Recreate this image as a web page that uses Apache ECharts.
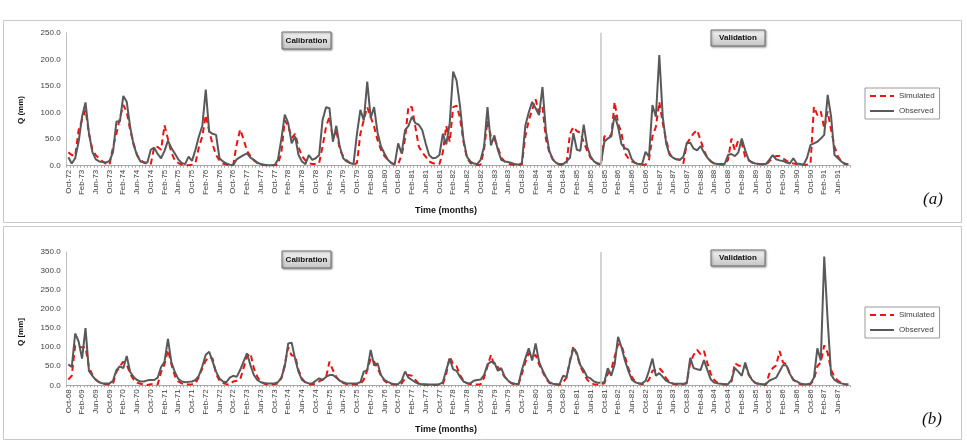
<!DOCTYPE html>
<html>
<head>
<meta charset="utf-8">
<script src="https://cdn.jsdelivr.net/npm/echarts@6/dist/echarts.min.js"></script>
<style>
  html, body { margin: 0; padding: 0; background: #fff; }
  #chart { width: 967px; height: 446px; }
</style>
</head>
<body>
<div id="chart"></div>
<script>
// month labels, water years Oct..Sep
const MONTHS = ['Oct', 'Nov', 'Dec', 'Jan', 'Feb', 'Mar', 'Apr', 'May', 'Jun', 'Jul', 'Aug', 'Sep']
function monthLabels(startYear, nYears) {
  const out = []
  for (let y = 0; y < nYears; y++) {
    MONTHS.forEach((m, k) => {
      const yr = (startYear + y + (k < 3 ? 0 : 1)) % 100
      out.push(m + '-' + String(yr).padStart(2, '0'))
    })
  }
  return out
}

const categoriesA = monthLabels(72, 19)   // Oct-72 .. Sep-91
const categoriesB = monthLabels(68, 19)   // Oct-68 .. Sep-87
const calibEndA = 'Sep-85'
const calibEndB = 'Sep-81'

// (a) monthly flow, mm
const observedA = [
  16, 4, 14, 45, 92, 119, 61, 26, 12, 8, 7, 6,
  9, 25, 83, 83, 131, 120, 73, 39, 20, 8, 6, 6,
  30, 34, 22, 14, 28, 47, 33, 23, 12, 5, 3, 17,
  9, 30, 55, 75, 143, 64, 60, 58, 14, 8, 4, 2,
  1, 12, 16, 20, 23, 15, 11, 6, 3, 2, 1, 1,
  1, 11, 50, 96, 80, 42, 55, 20, 8, 3, 20, 11,
  14, 20, 86, 110, 108, 45, 75, 36, 14, 8, 5, 3,
  60, 105, 85, 158, 90, 110, 62, 36, 23, 11, 5, 3,
  42, 23, 67, 75, 92, 80, 77, 67, 42, 20, 14, 15,
  20, 60, 40, 80, 177, 160, 112, 50, 17, 8, 4, 3,
  11, 36, 110, 38, 57, 30, 11, 8, 7, 5, 3, 2,
  5, 75, 100, 120, 108, 95, 148, 65, 28, 12, 5, 3,
  3, 8, 15, 61, 30, 28, 77, 36, 17, 8, 4, 3,
  45, 51, 55, 95, 73, 40, 33, 30, 12, 5, 3, 3,
  26, 17, 114, 92, 208, 92, 42, 20, 15, 12, 11, 17,
  42, 43, 32, 29, 37, 25, 15, 8, 4, 3, 3, 3,
  20, 22, 18, 25, 51, 29, 11, 6, 4, 3, 3, 3,
  11, 20, 12, 10, 9, 6, 4, 14, 4, 3, 2, 15,
  39, 42, 45, 51, 58, 133, 92, 20, 14, 8, 3, 3
]
const simulatedA = [
  25, 20, 18, 67, 86, 105, 61, 30, 20, 13, 8, 3,
  2, 35, 60, 90, 114, 101, 67, 42, 20, 11, 6, 3,
  3, 35, 35, 30, 76, 50, 25, 10, 5, 2, 1, 1,
  2, 5, 35, 55, 95, 65, 40, 20, 10, 4, 2, 1,
  2, 40, 68, 50, 28, 18, 10, 5, 2, 1, 1, 1,
  1, 2, 25, 85, 75, 52, 60, 35, 18, 10, 5, 3,
  3, 5, 36, 73, 92, 51, 67, 30, 18, 10, 5, 2,
  5, 60, 86, 110, 92, 73, 48, 30, 18, 11, 5, 2,
  3, 20, 50, 112, 110, 73, 36, 25, 17, 8, 5, 3,
  3, 25, 75, 45, 110, 113, 90, 45, 15, 5, 2, 1,
  2, 30, 85, 55, 50, 35, 15, 8, 4, 2, 1, 1,
  2, 55, 85, 105, 125, 100, 110, 50, 25, 12, 5, 2,
  2, 5, 60, 73, 65, 62, 45, 28, 15, 8, 4, 2,
  55, 58, 55, 120, 80, 61, 23, 14, 8, 5, 3, 2,
  2, 11, 55, 73, 120, 80, 48, 23, 14, 12, 11, 4,
  42, 51, 61, 67, 48, 29, 15, 8, 4, 3, 2, 2,
  11, 51, 29, 48, 42, 17, 10, 6, 4, 3, 2, 2,
  8, 15, 18, 18, 14, 9, 6, 4, 3, 2, 2, 2,
  3, 111, 95, 102, 70, 102, 67, 36, 17, 8, 4, 2
]

// (b) monthly flow, mm
const observedB = [
  55, 48, 136, 115, 70, 150, 38, 25, 14, 8, 5, 5,
  5, 12, 40, 50, 45, 77, 35, 22, 14, 10, 10, 13,
  14, 14, 20, 48, 62, 122, 60, 35, 17, 10, 8, 9,
  10, 14, 25, 50, 80, 88, 62, 36, 18, 10, 8, 20,
  25, 22, 40, 62, 84, 53, 27, 14, 8, 6, 5, 5,
  5, 8, 20, 49, 110, 112, 70, 35, 14, 8, 5, 5,
  12, 18, 14, 22, 27, 27, 20, 12, 8, 5, 5, 5,
  5, 8, 36, 40, 93, 52, 58, 27, 14, 9, 5, 3,
  3, 12, 36, 20, 14, 8, 4, 3, 3, 2, 2, 2,
  3, 8, 40, 70, 42, 38, 22, 10, 6, 5, 12, 14,
  15, 27, 55, 62, 60, 38, 45, 23, 12, 6, 4, 3,
  40, 70, 97, 65, 110, 62, 40, 22, 8, 4, 3, 3,
  25, 22, 62, 97, 85, 53, 40, 22, 18, 10, 7, 7,
  8, 45, 25, 55, 127, 100, 65, 38, 15, 8, 5, 5,
  12, 38, 70, 25, 32, 22, 12, 7, 5, 4, 4, 4,
  5, 72, 45, 42, 40, 66, 40, 15, 7, 5, 4, 3,
  3, 14, 45, 36, 25, 60, 30, 14, 6, 4, 3, 3,
  12, 16, 20, 36, 53, 52, 30, 14, 10, 5, 3, 3,
  5, 20, 97, 65, 338, 170, 28, 14, 8, 5, 3, 2
]
const simulatedB = [
  15, 25, 105, 100, 100, 100, 48, 27, 15, 8, 4, 3,
  2, 4, 35, 50, 62, 55, 30, 15, 7, 4, 2, 1,
  3, 2, 2, 35, 55, 93, 55, 25, 10, 5, 3, 2,
  3, 5, 22, 45, 65, 75, 70, 30, 12, 6, 3, 2,
  10, 12, 15, 45, 75, 84, 45, 22, 10, 4, 2, 2,
  3, 5, 18, 55, 100, 78, 78, 40, 18, 7, 3, 2,
  5, 10, 15, 20, 62, 40, 22, 12, 6, 3, 2, 2,
  2, 3, 15, 40, 70, 62, 45, 25, 12, 5, 3, 2,
  1, 5, 18, 27, 25, 14, 5, 2, 1, 1, 1, 1,
  2, 3, 30, 75, 55, 50, 27, 12, 5, 3, 2, 2,
  3, 20, 50, 80, 50, 48, 35, 22, 12, 5, 2, 2,
  30, 60, 85, 75, 80, 55, 36, 18, 6, 3, 2, 1,
  8, 20, 65, 103, 80, 50, 32, 15, 6, 3, 2, 2,
  5, 30, 40, 75, 108, 105, 75, 45, 22, 10, 5, 3,
  5, 15, 38, 40, 45, 35, 18, 8, 4, 2, 2, 2,
  8, 60, 80, 93, 82, 90, 58, 30, 14, 6, 3, 2,
  2, 10, 58, 52, 50, 55, 28, 14, 6, 3, 2, 1,
  30, 45, 52, 90, 60, 55, 30, 15, 7, 3, 2, 1,
  3, 15, 50, 60, 105, 85, 40, 22, 12, 6, 3, 2
]

const FONT = '"Liberation Sans", Arial, sans-serif'
const RED = '#ee1111'
const GREY = '#595959'

const chart = echarts.init(document.getElementById('chart'), null, { renderer: 'canvas' })

function xAxisFor(cats, gridIndex) {
  return {
    type: 'category', gridIndex, data: cats, boundaryGap: true,
    axisLine: { lineStyle: { color: '#a6a6a6', width: 1 } },
    axisTick: { show: true, interval: 0, length: 2, lineStyle: { color: '#a6a6a6' } },
    axisLabel: { interval: 3, rotate: 90, margin: 4, fontSize: 8, color: '#404040', fontFamily: FONT },
    splitLine: { show: false }
  }
}
function yAxisFor(max, gridIndex) {
  return {
    type: 'value', gridIndex, min: 0, max, interval: 50,
    axisLine: { show: true, lineStyle: { color: '#bfbfbf' } },
    axisTick: { show: false },
    splitLine: { show: false },
    axisLabel: { fontSize: 8, color: '#404040', fontFamily: FONT, margin: 6, formatter: v => v.toFixed(1) }
  }
}
function seriesFor(idx, sim, obs, calibEnd) {
  return [
    {
      name: 'Simulated', type: 'line', xAxisIndex: idx, yAxisIndex: idx, data: sim,
      symbol: 'none', lineStyle: { color: RED, width: 2, type: [6, 4] }, itemStyle: { color: RED },
      z: 2
    },
    {
      name: 'Observed', type: 'line', xAxisIndex: idx, yAxisIndex: idx, data: obs,
      symbol: 'none', lineStyle: { color: GREY, width: 2 }, itemStyle: { color: GREY },
      z: 3,
      markLine: {
        silent: true, symbol: ['none', 'none'], label: { show: false },
        lineStyle: { color: '#c6c6c6', width: 1.5, type: 'solid' },
        data: [{ xAxis: calibEnd }]
      }
    }
  ]
}
function legendAt(top) {
  return {
    orient: 'vertical', left: 865, top, data: ['Simulated', 'Observed'],
    itemWidth: 24, itemHeight: 10, itemGap: 7, padding: [4, 5, 4, 4],
    borderColor: '#9a9a9a', borderWidth: 1, backgroundColor: '#fff',
    itemStyle: { color: 'rgba(0,0,0,0)', borderWidth: 0, opacity: 0 },
    textStyle: { fontSize: 8, color: '#404040', fontFamily: FONT },
    selectedMode: false
  }
}
function tagBox(x, y, w, h, label) {
  return {
    type: 'group', children: [
      {
        type: 'rect', shape: { x, y, width: w, height: h },
        style: {
          fill: new echarts.graphic.LinearGradient(0, 0, 0, 1, [
            { offset: 0, color: '#f6f6f6' }, { offset: 1, color: '#c4c4c4' }
          ]),
          stroke: '#6e6e6e', lineWidth: 1,
          shadowBlur: 2, shadowOffsetX: 1, shadowOffsetY: 1, shadowColor: 'rgba(0,0,0,0.35)'
        }
      },
      {
        type: 'text', x: x + w / 2, y: y + h / 2,
        style: { text: label, font: 'bold 8px ' + FONT, fill: '#111', align: 'center', verticalAlign: 'middle' }
      }
    ]
  }
}
function plainText(x, y, text, font, rotation) {
  return {
    type: 'text', x, y, rotation: rotation || 0,
    style: { text, font, fill: '#111', align: 'center', verticalAlign: 'middle' }
  }
}

chart.setOption({
  animation: false,
  backgroundColor: '#fff',
  grid: [
    { left: 66.6, top: 32.7, width: 783.4, height: 133 },
    { left: 66.6, top: 252, width: 783.4, height: 133.3 }
  ],
  xAxis: [xAxisFor(categoriesA, 0), xAxisFor(categoriesB, 1)],
  yAxis: [yAxisFor(250, 0), yAxisFor(350, 1)],
  legend: [legendAt(88), legendAt(307)],
  series: [
    ...seriesFor(0, simulatedA, observedA, calibEndA),
    ...seriesFor(1, simulatedB, observedB, calibEndB)
  ],
  graphic: [
    { type: 'rect', shape: { x: 3.5, y: 20.5, width: 958, height: 202 }, style: { fill: 'none', stroke: '#c8c8c8', lineWidth: 1 }, z: -1 },
    { type: 'rect', shape: { x: 3.5, y: 226.5, width: 958, height: 213 }, style: { fill: 'none', stroke: '#c8c8c8', lineWidth: 1 }, z: -1 },
    tagBox(282, 32, 49, 17, 'Calibration'),
    tagBox(711, 30, 54, 16, 'Validation'),
    tagBox(282, 251, 49, 17, 'Calibration'),
    tagBox(711, 250, 54, 16, 'Validation'),
    plainText(21, 110, 'Q (mm)', 'bold 8px ' + FONT, Math.PI / 2),
    plainText(21, 332, 'Q [mm]', 'bold 8px ' + FONT, Math.PI / 2),
    plainText(446, 211, 'Time (months)', 'bold 9px ' + FONT),
    plainText(446, 430, 'Time (months)', 'bold 9px ' + FONT),
    plainText(933, 200, '(a)', 'italic 17px "Liberation Serif", "DejaVu Serif", serif'),
    plainText(932, 420, '(b)', 'italic 17px "Liberation Serif", "DejaVu Serif", serif')
  ]
})
</script>
</body>
</html>
